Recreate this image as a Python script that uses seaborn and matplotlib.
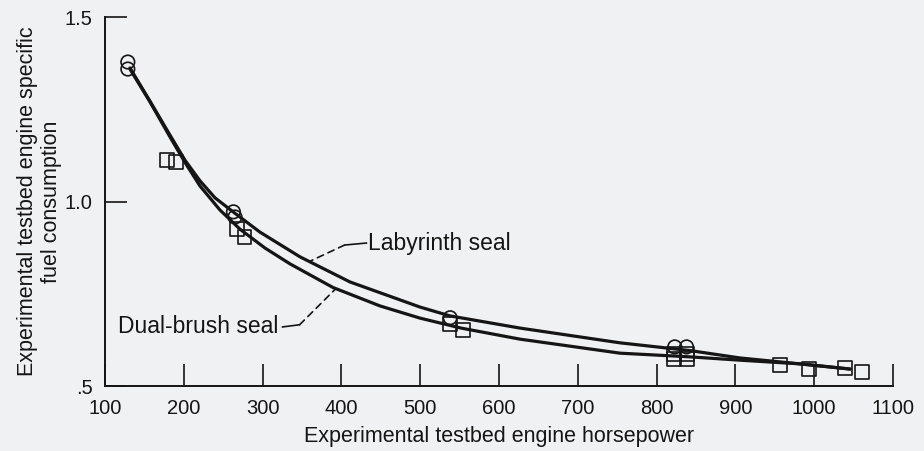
import matplotlib
matplotlib.use("Agg")
import matplotlib.pyplot as plt
import seaborn as sns

# test points
lab_hp = [129, 129, 263, 265, 538, 823, 838]
lab_sfc = [1.378, 1.359, 0.972, 0.958, 0.685, 0.606, 0.606]

brush_hp = [179, 190, 268, 277, 538, 554, 822, 838, 822, 838, 957, 993, 1039, 1061]
brush_sfc = [1.112, 1.107, 0.925, 0.905, 0.668, 0.652, 0.586, 0.586, 0.573, 0.573,
             0.557, 0.546, 0.549, 0.538]

# faired curves
lab_curve_hp = [131.7, 157.1, 182.5, 201.5, 220.6, 239.6, 265.0, 296.7, 347.5, 410.9,
                499.7, 537.8, 626.6, 753.6, 842.4, 905.8, 982.0, 1045.4]
lab_curve_sfc = [1.362, 1.272, 1.180, 1.112, 1.056, 1.010, 0.968, 0.917, 0.850, 0.782,
                 0.714, 0.690, 0.657, 0.617, 0.596, 0.576, 0.560, 0.546]

brush_curve_hp = [131.7, 157.1, 182.5, 201.5, 220.6, 245.9, 271.3, 303.0, 334.8, 389.3,
                  449.0, 499.7, 551.8, 626.6, 753.6, 842.4, 905.8, 982.0, 1045.4]
brush_curve_sfc = [1.359, 1.270, 1.175, 1.106, 1.042, 0.977, 0.925, 0.874, 0.831, 0.767,
                   0.717, 0.684, 0.657, 0.627, 0.589, 0.579, 0.570, 0.560, 0.546]

x_ticks = [100, 200, 300, 400, 500, 600, 700, 800, 900, 1000, 1100]
y_ticks = [0.5, 1.0, 1.5]
y_tick_labels = [".5", "1.0", "1.5"]

paper = "#eff1f2"
ink = "#151515"

sns.set_theme(style="ticks")
plt.rcParams["font.family"] = ["Liberation Sans", "DejaVu Sans"]

fig = plt.figure(figsize=(9.24, 4.51), dpi=100, facecolor=paper)
ax = fig.add_axes([0.1136, 0.1441, 0.8529, 0.8182])
ax.set_facecolor(paper)

sns.lineplot(x=lab_curve_hp, y=lab_curve_sfc, ax=ax, color=ink, lw=2.3, sort=False)
sns.lineplot(x=brush_curve_hp, y=brush_curve_sfc, ax=ax, color=ink, lw=2.3, sort=False)

sns.scatterplot(x=lab_hp, y=lab_sfc, ax=ax, marker="o", s=95,
                facecolor="none", edgecolor=ink, linewidth=1.2, zorder=3)
sns.scatterplot(x=brush_hp, y=brush_sfc, ax=ax, marker="s", s=100,
                facecolor="none", edgecolor=ink, linewidth=1.2, zorder=3)

ax.set_xlim(100, 1100)
ax.set_ylim(0.5, 1.5)
ax.set_xticks(x_ticks)
ax.set_yticks(y_ticks)
ax.set_yticklabels(y_tick_labels)
ax.tick_params(axis="both", direction="in", length=16, width=1.2, pad=9,
               labelsize=14.5, colors=ink)
sns.despine(ax=ax)
for side in ["left", "bottom"]:
    ax.spines[side].set_linewidth(1.4)
    ax.spines[side].set_color(ink)

ax.set_xlabel("Experimental testbed engine horsepower", fontsize=15.5, color=ink, labelpad=6)
ax.set_ylabel("Experimental testbed engine specific\nfuel consumption", fontsize=15.5,
              color=ink, labelpad=2, linespacing=1.15)

# leader labels
ax.annotate("", xy=(404, 0.882), xytext=(432, 0.8875),
            arrowprops=dict(arrowstyle="-", color=ink, lw=1.2, shrinkA=0, shrinkB=0))
ax.annotate("", xy=(361, 0.839), xytext=(404, 0.882),
            arrowprops=dict(arrowstyle="-", color=ink, lw=1.2, ls=(0, (4, 3)), shrinkA=0, shrinkB=0))
ax.text(434, 0.8875, "Labyrinth seal", fontsize=16.5, color=ink, ha="left", va="center")

ax.annotate("", xy=(347, 0.666), xytext=(325, 0.66),
            arrowprops=dict(arrowstyle="-", color=ink, lw=1.2, shrinkA=0, shrinkB=0))
ax.annotate("", xy=(393, 0.764), xytext=(347, 0.666),
            arrowprops=dict(arrowstyle="-", color=ink, lw=1.2, ls=(0, (4, 3)), shrinkA=0, shrinkB=0))
ax.text(320, 0.66, "Dual-brush seal", fontsize=16.5, color=ink, ha="right", va="center",
        clip_on=False)

fig.savefig("out.png", dpi=100, facecolor=paper)
